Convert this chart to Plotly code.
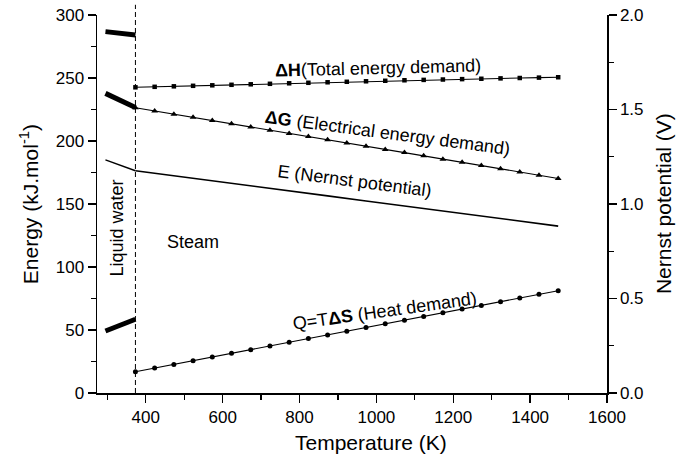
import plotly.graph_objects as go

# ---------------- data ----------------
T_BOIL = 373
X_MIN, X_MAX = 273, 1600

# liquid water region (thick lines)
T_liq = [295, 320, 345, 373]
dH_liq = [286.8, 286.0, 285.2, 284.2]
dG_liq = [237.8, 234.0, 229.8, 226.5]
Q_liq = [49.2, 52.2, 55.3, 58.5]
E_liq = [1.233, 1.214, 1.195, 1.176]

# steam region (marked lines)
T_steam = [373, 423, 473, 523, 573, 623, 673, 723, 773, 823, 873, 923,
           973, 1023, 1073, 1123, 1173, 1223, 1273, 1323, 1373, 1423, 1473]
dH_steam = [242.6, 243.0, 243.4, 243.8, 244.2, 244.6, 245.0, 245.4, 245.8,
            246.2, 246.6, 247.0, 247.4, 247.8, 248.2, 248.5, 248.8, 249.1,
            249.4, 249.7, 250.0, 250.3, 250.6]
dG_steam = [226.4, 223.9, 221.3, 218.8, 216.2, 213.7, 211.1, 208.6, 206.0,
            203.5, 201.0, 198.4, 195.9, 193.3, 190.8, 188.2, 185.6, 183.1,
            180.5, 178.0, 175.4, 172.8, 170.3]
Q_steam = [16.9, 19.8, 22.7, 25.6, 28.6, 31.5, 34.4, 37.3, 40.3, 43.2, 46.1,
           49.0, 52.0, 54.9, 57.8, 60.7, 63.6, 66.6, 69.5, 72.4, 75.3, 78.3,
           81.2]
T_E = [373, 473, 573, 673, 773, 873, 973, 1073, 1173, 1273, 1373, 1473]
E_steam = [1.176, 1.150, 1.124, 1.097, 1.070, 1.043, 1.016, 0.989, 0.962,
           0.936, 0.909, 0.883]

X_TICKS = [400, 600, 800, 1000, 1200, 1400, 1600]
Y_TICKS = [0, 50, 100, 150, 200, 250, 300]
Y2_TICKS = [0.0, 0.5, 1.0, 1.5, 2.0]

FONT = "Arial, Liberation Sans, sans-serif"
BLACK = "#000000"

fig = go.Figure()

# liquid (thick)
for yv in (dH_liq, dG_liq, Q_liq):
    fig.add_trace(go.Scatter(x=T_liq, y=yv, mode="lines",
                             line=dict(color=BLACK, width=5), showlegend=False))
fig.add_trace(go.Scatter(x=T_liq, y=E_liq, mode="lines", yaxis="y2",
                         line=dict(color=BLACK, width=1.4), showlegend=False))

# steam
fig.add_trace(go.Scatter(x=T_steam, y=dH_steam, mode="lines+markers",
                         line=dict(color=BLACK, width=1.1),
                         marker=dict(symbol="square", size=4.5, color=BLACK),
                         showlegend=False))
fig.add_trace(go.Scatter(x=T_steam, y=dG_steam, mode="lines+markers",
                         line=dict(color=BLACK, width=1.1),
                         marker=dict(symbol="triangle-up", size=6, color=BLACK),
                         showlegend=False))
fig.add_trace(go.Scatter(x=T_steam, y=Q_steam, mode="lines+markers",
                         line=dict(color=BLACK, width=1.1),
                         marker=dict(symbol="circle", size=5, color=BLACK),
                         showlegend=False))
fig.add_trace(go.Scatter(x=T_E, y=E_steam, mode="lines", yaxis="y2",
                         line=dict(color=BLACK, width=1.6), showlegend=False))

# dashed phase boundary
xb = (T_BOIL - X_MIN) / (X_MAX - X_MIN)
fig.add_shape(type="line", xref="paper", yref="paper", x0=xb, x1=xb, y0=0, y1=1.027,
              line=dict(color=BLACK, width=1, dash="5px,3px"))

ann_font = dict(family=FONT, size=18, color=BLACK)
anns = [
    dict(x=1003, y=257.9, text="<b>ΔH</b>(Total energy demand)", textangle=-1.4),
    dict(x=1030, y=206.7, text="<b>ΔG</b> (Electrical energy demand)", textangle=7.5),
    dict(x=944, y=167.9, text="E (Nernst potential)", textangle=7.4),
    dict(x=1022, y=65, text="Q=T<b>ΔS</b> (Heat demand)", textangle=-8),
    dict(x=523, y=120.2, text="Steam", textangle=0),
    dict(x=325, y=131.3, text="Liquid water", textangle=-90),
]
for a in anns:
    fig.add_annotation(xref="x", yref="y", showarrow=False, font=ann_font,
                       xanchor="center", yanchor="middle", **a)

title_font = dict(family=FONT, size=21, color=BLACK)
fig.add_annotation(xref="paper", yref="paper", x=0.537, y=-0.132, text="Temperature (K)",
                   showarrow=False, font=title_font, xanchor="center", yanchor="middle")
fig.add_annotation(xref="paper", yref="paper", x=-0.133, y=0.5,
                   text="Energy (kJ.mol<sup>-1</sup>)", textangle=-90,
                   showarrow=False, font=title_font, xanchor="center", yanchor="middle")
fig.add_annotation(xref="paper", yref="paper", x=1.11, y=0.5,
                   text="Nernst potential (V)", textangle=-90,
                   showarrow=False, font=title_font, xanchor="center", yanchor="middle")

tick_font = dict(family=FONT, size=17, color=BLACK)
axis_common = dict(showgrid=False, zeroline=False, showline=True, linecolor=BLACK,
                   linewidth=1.5, ticks="outside", ticklen=8, tickwidth=1.3,
                   tickcolor=BLACK, tickfont=tick_font, automargin=False,
                   ticklabeloverflow="allow")

fig.update_layout(
    width=688, height=461,
    margin=dict(l=97, r=81, t=15, b=68, autoexpand=False),
    paper_bgcolor="white", plot_bgcolor="white",
    showlegend=False,
    hovermode=False,
    xaxis=dict(range=[X_MIN, X_MAX], tickvals=X_TICKS,
               minor=dict(dtick=100, tick0=0, ticklen=5, tickwidth=1.3,
                          tickcolor=BLACK, ticks="outside"),
               **axis_common),
    yaxis=dict(range=[0, 300], tickvals=Y_TICKS,
               minor=dict(dtick=25, tick0=0, ticklen=5, tickwidth=1.3,
                          tickcolor=BLACK, ticks="outside"),
               **axis_common),
    yaxis2=dict(range=[0, 2], tickvals=Y2_TICKS, tickformat=".1f",
                overlaying="y", side="right", anchor="x",
                minor=dict(dtick=0.25, tick0=0, ticklen=5, tickwidth=1.3,
                           tickcolor=BLACK, ticks="outside"),
                **axis_common),
)

# remove the browser's default 8px body margin so the figure sits at (0, 0)
fig.write_html("out.html",
               config={"displayModeBar": False, "staticPlot": True},
               post_script="document.body.style.margin='0';document.body.style.overflow='hidden';")
